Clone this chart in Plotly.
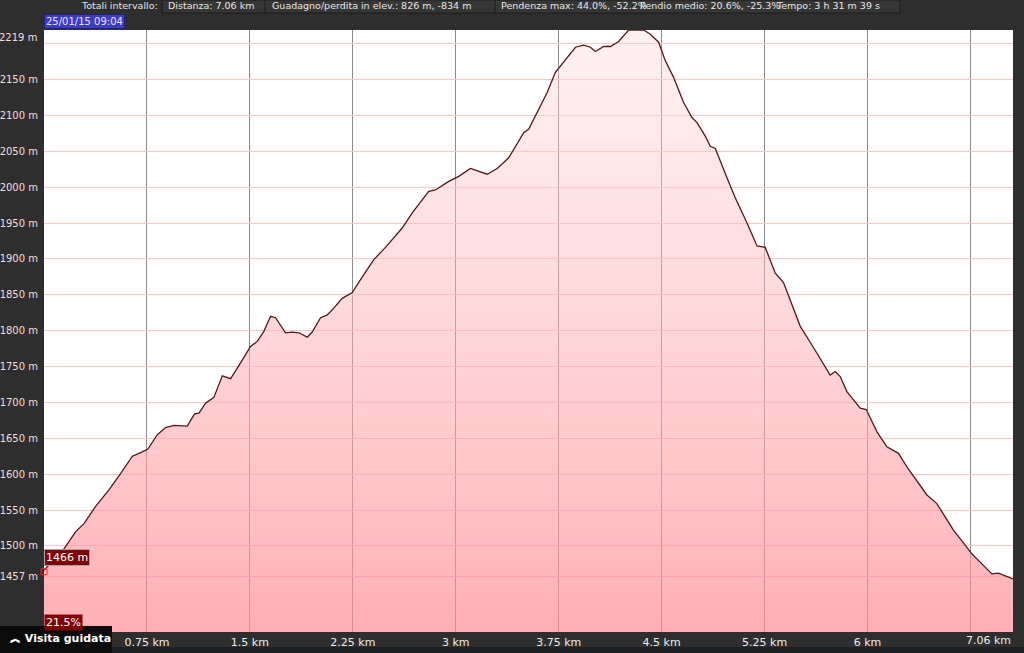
import plotly.graph_objects as go

# ---- data ----
distance_km = [0.0, 0.146, 0.231, 0.291, 0.376, 0.473, 0.559, 0.644, 0.704, 0.757,
               0.826, 0.886, 0.947, 1.044, 1.097, 1.129, 1.177, 1.238, 1.299, 1.360,
               1.432, 1.505, 1.554, 1.602, 1.651, 1.687, 1.760, 1.809, 1.857, 1.918,
               1.954, 2.015, 2.064, 2.100, 2.173, 2.246, 2.330, 2.403, 2.488, 2.549,
               2.610, 2.683, 2.755, 2.803, 2.852, 2.889, 2.949, 3.022, 3.107, 3.229,
               3.302, 3.386, 3.447, 3.495, 3.532, 3.593, 3.666, 3.726, 3.799, 3.872,
               3.932, 3.981, 4.017, 4.078, 4.127, 4.187, 4.260, 4.369, 4.418, 4.478,
               4.527, 4.587, 4.660, 4.721, 4.758, 4.818, 4.855, 4.891, 4.976, 5.037,
               5.122, 5.195, 5.255, 5.328, 5.388, 5.450, 5.510, 5.595, 5.704, 5.728,
               5.765, 5.801, 5.850, 5.947, 5.991, 6.069, 6.141, 6.226, 6.287, 6.433,
               6.505, 6.626, 6.712, 6.760, 6.833, 6.906, 6.954, 7.039, 7.06]
elevation_m = [1466, 1496, 1520, 1531, 1555, 1578, 1601, 1625, 1630, 1635,
               1655, 1665, 1668, 1667, 1684, 1685, 1699, 1707, 1737, 1733,
               1755, 1778, 1785, 1799, 1820, 1818, 1797, 1798, 1797, 1791,
               1798, 1818, 1822, 1829, 1845, 1853, 1878, 1899, 1916, 1930,
               1943, 1964, 1983, 1994, 1996, 2001, 2008, 2015, 2026, 2018,
               2026, 2041, 2060, 2076, 2081, 2105, 2132, 2160, 2178, 2195,
               2198, 2195, 2189, 2196, 2196, 2203, 2219, 2219, 2213, 2202,
               2176, 2153, 2118, 2097, 2090, 2071, 2057, 2054, 2013, 1985,
               1950, 1918, 1916, 1880, 1867, 1836, 1806, 1780, 1745, 1738,
               1743, 1736, 1715, 1692, 1690, 1659, 1638, 1629, 1610, 1571,
               1559, 1522, 1501, 1489, 1475, 1461, 1462, 1455, 1454]

x_ticks = [0.75, 1.5, 2.25, 3.0, 3.75, 4.5, 5.25, 6.0, 6.75]
x_tick_labels = ["0.75 km", "1.5 km", "2.25 km", "3 km", "3.75 km", "4.5 km",
                 "5.25 km", "6 km", ""]
y_ticks = [1457, 1500, 1550, 1600, 1650, 1700, 1750, 1800, 1850, 1900, 1950,
           2000, 2050, 2100, 2150, 2200]
y_tick_labels = ["1457 m", "1500 m", "1550 m", "1600 m", "1650 m", "1700 m",
                 "1750 m", "1800 m", "1850 m", "1900 m", "1950 m", "2000 m",
                 "2050 m", "2100 m", "2150 m", ""]
y_min, y_max = 1380, 2219
total_km = 7.06
start_label = "1466 m"
slope_label = "21.5%"
date_label = "25/01/15 09:04"
header_title = "Totali intervallo:"
header_items = ["Distanza: 7.06 km",
                "Guadagno/perdita in elev.: 826 m, -834 m",
                "Pendenza max: 44.0%, -52.2%",
                "Pendio medio: 20.6%, -25.3%",
                "Tempo: 3 h 31 m 39 s"]

# ---- layout geometry (pixels) ----
W, H = 1024, 653
ML, MR, MT, MB = 44, 11, 30, 21
PW, PH = W - ML - MR, H - MT - MB


def px(xp):
    return (xp - ML) / PW


def py(yp):
    return (H - MB - yp) / PH


FONT = "DejaVu Sans"

fig = go.Figure()
fig.add_trace(go.Scatter(
    x=distance_km, y=elevation_m, mode="lines",
    line=dict(color="#561515", width=1.3),
    fill="tozeroy",
    fillgradient=dict(type="vertical", start=y_min, stop=y_max,
                      colorscale=[[0, "rgba(255,140,150,0.70)"],
                                  [1, "rgba(255,215,215,0.35)"]]),
    hoverinfo="skip", showlegend=False))
fig.add_trace(go.Scatter(
    x=[distance_km[0]], y=[elevation_m[0] - 2], mode="markers",
    marker=dict(symbol="square-open", size=6, color="#ff2020", line=dict(width=1)),
    cliponaxis=False, hoverinfo="skip", showlegend=False))

shapes = []
annotations = []

# header bar boxes
shapes.append(dict(type="rect", xref="paper", yref="paper",
                   x0=px(162), x1=px(900), y0=py(13), y1=py(0),
                   fillcolor="#363636", line=dict(color="#1c1c1c", width=1),
                   layer="below"))
for xb in [265, 495]:
    shapes.append(dict(type="line", xref="paper", yref="paper",
                       x0=px(xb), x1=px(xb), y0=py(13), y1=py(0),
                       line=dict(color="#1c1c1c", width=1), layer="below"))
header_x = [166, 270, 499, 638, 774]
for xt, txt in zip(header_x, header_items):
    annotations.append(dict(text=txt, xref="paper", yref="paper",
                            x=px(xt), y=py(6), xanchor="left", yanchor="middle",
                            showarrow=False, font=dict(family=FONT, size=9.5, color="#e6e6e6")))
annotations.append(dict(text=header_title, xref="paper", yref="paper",
                        x=px(160), y=py(6), xanchor="right", yanchor="middle",
                        showarrow=False, font=dict(family=FONT, size=9.5, color="#e6e6e6")))
# date label
annotations.append(dict(text=date_label, xref="paper", yref="paper",
                        x=px(ML), y=py(21), xanchor="left", yanchor="middle",
                        showarrow=False, bgcolor="#3b3bc4", borderpad=1,
                        bordercolor="#22227a", borderwidth=1,
                        font=dict(family=FONT, size=10, color="#e8e8f8")))
# top y label
annotations.append(dict(text="2219 m", xref="paper", yref="paper",
                        x=px(39), y=py(37), xanchor="right", yanchor="middle",
                        showarrow=False, font=dict(family=FONT, size=10, color="#f2dede")))
# right x label
annotations.append(dict(text=f"{total_km} km", x=total_km, xref="x", yref="paper",
                        y=py(640), xanchor="right", yanchor="middle",
                        showarrow=False, font=dict(family=FONT, size=11, color="#ececec")))
# start value label
annotations.append(dict(text=start_label, x=0, y=elevation_m[0], xref="x", yref="y",
                        xanchor="left", yanchor="bottom", yshift=4, showarrow=False,
                        bgcolor="#7d0505", bordercolor="#b0a0a0", borderwidth=1, borderpad=1,
                        font=dict(family=FONT, size=11, color="#ffffff")))
# slope label
annotations.append(dict(text=slope_label, xref="paper", yref="paper", x=0, y=py(631),
                        xanchor="left", yanchor="bottom", showarrow=False,
                        bgcolor="#7d0505", borderpad=1,
                        font=dict(family=FONT, size=11, color="#ffffff")))
# guided tour button
shapes.append(dict(type="rect", xref="paper", yref="paper",
                   x0=px(0), x1=px(112), y0=py(653), y1=py(626),
                   fillcolor="#0b0b0b", line=dict(color="#0b0b0b", width=0), layer="above"))
annotations.append(dict(text="<b>︽ Visita guidata</b>", xref="paper", yref="paper",
                        x=px(8), y=py(638), xanchor="left", yanchor="middle",
                        showarrow=False, font=dict(family=FONT, size=11, color="#ffffff")))
# bottom strip
shapes.append(dict(type="rect", xref="paper", yref="paper",
                   x0=px(112), x1=px(W), y0=py(H), y1=py(647),
                   fillcolor="#1d1f22", line=dict(width=0), layer="below"))

fig.update_layout(
    width=W, height=H,
    margin=dict(l=ML, r=MR, t=MT, b=MB, pad=0, autoexpand=False),
    paper_bgcolor="#2e2e2e", plot_bgcolor="#ffffff",
    shapes=shapes, annotations=annotations,
    xaxis=dict(range=[0, total_km], tickvals=x_ticks, ticktext=x_tick_labels,
               showgrid=True, gridcolor="#8a8a8a", gridwidth=1, automargin=False,
               zeroline=False, showline=False, ticks="", ticklabelstandoff=2,
               tickfont=dict(family=FONT, size=11, color="#ececec"), fixedrange=True),
    yaxis=dict(range=[y_min, y_max], tickvals=y_ticks, ticktext=y_tick_labels,
               showgrid=True, gridcolor="#ffc6c6", gridwidth=1, automargin=False,
               zeroline=False, showline=False, ticks="", ticklabelstandoff=5,
               tickfont=dict(family=FONT, size=10, color="#f2dede"), fixedrange=True),
)

fig.write_html("out.html", config={"displayModeBar": False})

# remove the default page margin so the figure fills the window exactly
with open("out.html", "r", encoding="utf-8") as f:
    html = f.read()
html = html.replace("<head>", "<head><style>html,body{margin:0;padding:0;overflow:hidden;background:#2e2e2e;}</style>", 1)
with open("out.html", "w", encoding="utf-8") as f:
    f.write(html)
